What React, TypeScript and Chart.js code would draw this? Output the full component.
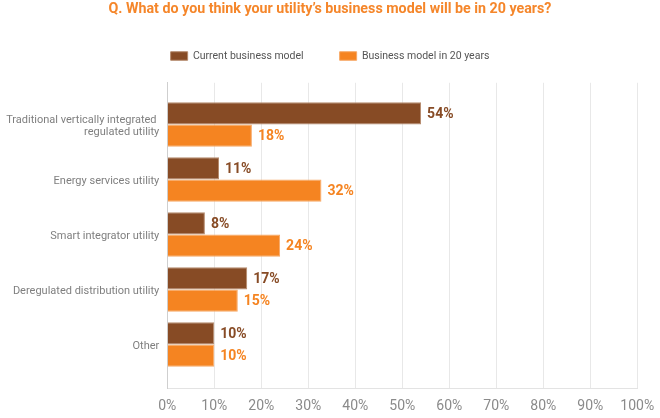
import React, { useEffect, useRef } from "react";
import { Chart, registerables } from "chart.js";

Chart.register(...registerables);

const categories: (string | string[])[] = [
  ["Traditional vertically integrated ", "regulated utility"],
  "Energy services utility",
  "Smart integrator utility",
  "Deregulated distribution utility",
  "Other",
];
const seriesNames = ["Current business model", "Business model in 20 years"];
const currentValues = [54, 11, 8, 17, 10];
const futureValues = [18, 32.8, 24, 15, 10];
const currentLabels = ["54%", "11%", "8%", "17%", "10%"];
const futureLabels = ["18%", "32%", "24%", "15%", "10%"];
const xTicks = [0, 10, 20, 30, 40, 50, 60, 70, 80, 90, 100];
const titleText = "Q. What do you think your utility\u2019s business model will be in 20 years?";

const BROWN = "#874b25";
const ORANGE = "#f58421";

const valueLabelPlugin = {
  id: "valueLabels",
  afterDatasetsDraw(chart: any) {
    const ctx = chart.ctx;
    const texts = [currentLabels, futureLabels];
    const colors = [BROWN, ORANGE];
    ctx.save();
    ctx.font = "bold 14px Roboto";
    ctx.textBaseline = "middle";
    ctx.textAlign = "left";
    chart.data.datasets.forEach((_: any, di: number) => {
      const meta = chart.getDatasetMeta(di);
      ctx.fillStyle = colors[di];
      meta.data.forEach((el: any, i: number) => {
        ctx.fillText(texts[di][i], el.x + 6, el.y + 1);
      });
    });
    ctx.restore();
  },
};

export default function App() {
  const ref = useRef<HTMLCanvasElement>(null);
  useEffect(() => {
    document.body.style.margin = "0";
    const chart = new Chart(ref.current!, {
      type: "bar",
      data: {
        datasets: [
          {
            label: seriesNames[0],
            data: currentValues.map((v, i) => ({ x: v, y: i })),
            backgroundColor: BROWN,
            borderColor: "#b58a6c",
            borderWidth: 1,
            categoryPercentage: 0.81,
            barPercentage: 1,
          },
          {
            label: seriesNames[1],
            data: futureValues.map((v, i) => ({ x: v, y: i })),
            backgroundColor: ORANGE,
            borderColor: "#f7a866",
            borderWidth: 1,
            categoryPercentage: 0.81,
            barPercentage: 1,
          },
        ],
      },
      options: {
        indexAxis: "y",
        animation: false,
        responsive: false,
        layout: { padding: 0 },
        plugins: {
          title: {
            display: true,
            text: titleText,
            color: "#f5862a",
            font: { family: "'Liberation Sans Narrow', Roboto", size: 14.25, weight: "bold", lineHeight: 1 },
            padding: { top: 2.5, bottom: -2 },
          },
          subtitle: {
            display: true,
            text: "",
            weight: 500,
            font: { size: 10, lineHeight: 1 },
            padding: { top: 0, bottom: 1.5 },
          },
          legend: {
            display: true,
            position: "top",
            labels: {
              boxWidth: 17,
              boxHeight: 8.5,
              padding: 36,
              color: "#555555",
              font: { family: "Roboto", size: 10.5 },
            },
          },
          tooltip: { enabled: false },
        },
        scales: {
          x: {
            type: "linear",
            position: "bottom",
            min: 0,
            max: 100,
            afterBuildTicks: (axis: any) => {
              axis.ticks = xTicks.map((v) => ({ value: v }));
            },
            afterFit: (axis: any) => {
              axis.height = 29.5;
              axis.paddingRight = 22.7;
            },
            ticks: {
              callback: (v: any) => v + "%",
              color: "#8a8a8a",
              font: { family: "Roboto", size: 14 },
              padding: 10,
            },
            grid: { color: "#e8e8e8", lineWidth: 1, drawTicks: false },
            border: { display: true, color: "#e3e3e3" },
          },
          y: {
            type: "linear",
            reverse: true,
            offset: false,
            min: -0.76,
            max: 4.8,
            afterBuildTicks: (axis: any) => {
              axis.ticks = categories.map((_, i) => ({ value: i }));
            },
            afterFit: (axis: any) => {
              axis.width = 167.3;
            },
            ticks: {
              callback: (v: any) => categories[v as number],
              color: "#7f7f7f",
              font: { family: "Roboto", size: 11, lineHeight: 1.1 },
              padding: 8,
              labelOffset: 2,
            },
            grid: { display: false, drawTicks: false },
            border: { display: true, color: "#cfcfcf" },
          },
        },
      },
      plugins: [valueLabelPlugin],
    } as any);
    return () => chart.destroy();
  }, []);
  return (
    <div style={{ width: 660, height: 418 }}>
      <canvas ref={ref} width={660} height={418} />
    </div>
  );
}
